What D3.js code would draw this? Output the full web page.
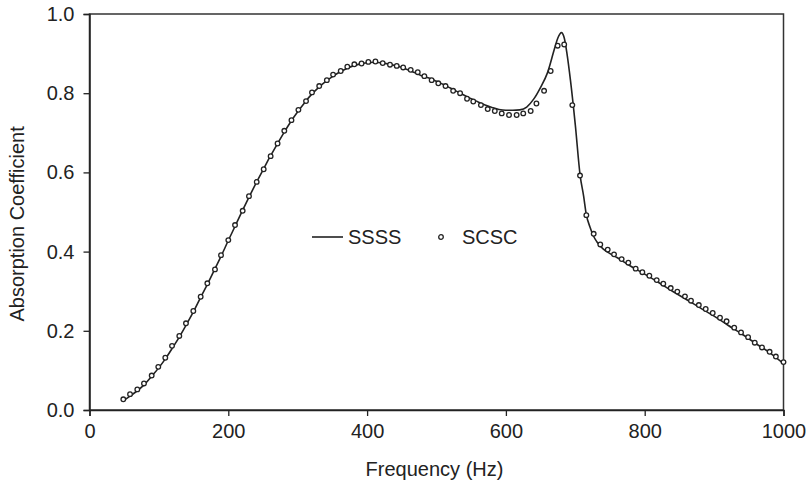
<!DOCTYPE html>
<html>
<head>
<meta charset="utf-8">
<script src="https://cdn.jsdelivr.net/npm/d3@7.9.0/dist/d3.min.js"></script>
<style>
  body { margin: 0; background: #fff; }
  svg { display: block; font-family: "Liberation Sans", Arial, sans-serif; }
</style>
</head>
<body>
<svg id="chart" width="810" height="492"></svg>
<script>
// SCSC markers (frequency Hz, absorption coefficient)
const scscFreq = [48.7, 58.4, 68.9, 78.5, 89.6, 99.1, 109.2, 118.9, 129.4, 139, 149.6, 160.2, 169.8, 180.8, 189.5,
  200, 209.7, 220.7, 229.8, 240.9, 251, 261, 271, 280.7, 291, 301, 312, 320.6, 331, 342, 351, 362, 371.5, 381.6,
  392, 401.8, 412, 422.5, 433, 442.7, 452, 462.8, 473, 482.5, 493, 502.6, 513, 524, 534, 544, 553, 564, 573.8,
  584, 594, 604.5, 615.5, 625, 635.7, 644, 655, 664.5, 674.6, 684, 695.7, 706.8, 715.9, 726.5, 736, 746.7,
  755.8, 766.8, 776.4, 787, 796.6, 806.7, 817.3, 826.8, 837.5, 847, 858, 866.7, 878, 887.9, 898, 908.5, 918,
  929, 938.8, 949, 958.6, 969, 980, 989, 1000];
const scscValue = [0.027, 0.040, 0.052, 0.067, 0.087, 0.109, 0.132, 0.162, 0.187, 0.219, 0.250, 0.286, 0.320, 0.355, 0.391,
  0.429, 0.467, 0.503, 0.540, 0.576, 0.608, 0.641, 0.673, 0.705, 0.732, 0.758, 0.780, 0.802, 0.818, 0.833, 0.847, 0.856, 0.867, 0.873,
  0.875, 0.879, 0.880, 0.876, 0.872, 0.869, 0.865, 0.859, 0.853, 0.843, 0.833, 0.825, 0.818, 0.806, 0.800, 0.786, 0.779, 0.770, 0.760,
  0.755, 0.749, 0.745, 0.745, 0.749, 0.755, 0.774, 0.806, 0.856, 0.920, 0.923, 0.770, 0.592, 0.492, 0.445, 0.418, 0.405,
  0.393, 0.381, 0.372, 0.357, 0.348, 0.339, 0.328, 0.319, 0.308, 0.299, 0.287, 0.276, 0.265, 0.255, 0.245, 0.233, 0.224,
  0.208, 0.196, 0.184, 0.170, 0.158, 0.147, 0.135, 0.121];

// SSSS solid line
const ssssFreq = [50, 60, 70, 80, 90, 100, 110, 120, 130, 140, 150, 160, 170, 180, 190, 200, 210, 220, 230, 240,
  250, 260, 270, 280, 290, 300, 310, 320, 330, 340, 350, 360, 370, 380, 390, 400, 410, 420, 430, 440, 450, 460,
  470, 480, 490, 500, 510, 520, 530, 540, 550, 560, 570, 580, 590, 600, 610, 620, 630, 640, 650, 660, 670, 675,
  680, 684, 688, 693, 700, 707, 712, 716, 721, 726, 731, 740, 750, 760, 780, 800, 820, 840, 860, 880, 900, 920,
  940, 960, 980, 1000];
const ssssValue = [0.025, 0.037, 0.050, 0.066, 0.086, 0.107, 0.131, 0.158, 0.186, 0.217, 0.249, 0.284, 0.318, 0.354, 0.390, 0.428, 0.465, 0.502, 0.538, 0.573,
  0.606, 0.639, 0.670, 0.700, 0.728, 0.753, 0.776, 0.797, 0.814, 0.829, 0.842, 0.853, 0.862, 0.869, 0.874, 0.877, 0.878, 0.877, 0.874, 0.870, 0.865, 0.858,
  0.851, 0.843, 0.838, 0.830, 0.822, 0.813, 0.804, 0.795, 0.786, 0.778, 0.770, 0.764, 0.759, 0.757, 0.757, 0.758, 0.765, 0.785, 0.815, 0.852, 0.912, 0.940,
  0.953, 0.940, 0.900, 0.833, 0.720, 0.592, 0.540, 0.492, 0.463, 0.440, 0.425, 0.407, 0.395, 0.385, 0.363, 0.343, 0.322, 0.300, 0.279, 0.258, 0.237, 0.214,
  0.192, 0.168, 0.145, 0.117];

const xTicks = [0, 200, 400, 600, 800, 1000];
const yTicks = [0, 0.2, 0.4, 0.6, 0.8, 1.0];

const ink = '#222';
const svg = d3.select('#chart');

const x = d3.scaleLinear().domain([0, 1000]).range([89.5, 783.5]);
const y = d3.scaleLinear().domain([0, 1]).range([410, 14]);

// frame (top + right)
svg.append('rect')
  .attr('x', x(0)).attr('y', y(1))
  .attr('width', x(1000) - x(0)).attr('height', y(0) - y(1))
  .attr('fill', 'none').attr('stroke', '#333').attr('stroke-width', 1.5);

// axes
const xAxis = svg.append('g')
  .attr('transform', `translate(0,${y(0)})`)
  .call(d3.axisBottom(x).tickValues(xTicks).tickSize(6).tickPadding(8).tickFormat(d3.format('d')));
const yAxis = svg.append('g')
  .attr('transform', `translate(${x(0)},0)`)
  .call(d3.axisLeft(y).tickValues(yTicks).tickSize(6).tickPadding(9).tickFormat(d3.format('.1f')));

[xAxis, yAxis].forEach((g) => {
  g.select('.domain').attr('stroke', ink).attr('stroke-width', 1.5);
  g.selectAll('.tick line').attr('stroke', ink).attr('stroke-width', 1.3);
  g.selectAll('.tick text')
    .attr('fill', ink)
    .style('font-size', '20px')
    .style('font-family', '"Liberation Sans", Arial, sans-serif');
});

// axis titles
svg.append('text')
  .attr('x', x(500) - 2).attr('y', 476)
  .attr('text-anchor', 'middle')
  .attr('fill', ink).style('font-size', '20px')
  .text('Frequency (Hz)');
svg.append('text')
  .attr('transform', `translate(24,${y(0.47)}) rotate(-90)`)
  .attr('text-anchor', 'middle')
  .attr('fill', ink).style('font-size', '20px')
  .text('Absorption Coefficient');

// SSSS line
const ssss = ssssFreq.map((f, i) => [f, ssssValue[i]]);
svg.append('path')
  .datum(ssss)
  .attr('fill', 'none')
  .attr('stroke', ink)
  .attr('stroke-width', 1.6)
  .attr('d', d3.line().x((d) => x(d[0])).y((d) => y(d[1])).curve(d3.curveMonotoneX));

// SCSC markers
const scsc = scscFreq.map((f, i) => [f, scscValue[i]]);
svg.append('g')
  .selectAll('circle')
  .data(scsc)
  .enter()
  .append('circle')
  .attr('cx', (d) => x(d[0]))
  .attr('cy', (d) => y(d[1]))
  .attr('r', 2.3)
  .attr('fill', '#fff')
  .attr('stroke', ink)
  .attr('stroke-width', 1.3);

// legend
const legend = svg.append('g').attr('transform', 'translate(312,237)');
legend.append('line')
  .attr('x1', 0).attr('x2', 31).attr('y1', 0).attr('y2', 0)
  .attr('stroke', ink).attr('stroke-width', 1.6);
legend.append('text')
  .attr('x', 36).attr('y', 7)
  .attr('fill', ink).style('font-size', '20px')
  .text('SSSS');
legend.append('circle')
  .attr('cx', 129).attr('cy', 0).attr('r', 2.3)
  .attr('fill', '#fff').attr('stroke', ink).attr('stroke-width', 1.3);
legend.append('text')
  .attr('x', 150).attr('y', 7)
  .attr('fill', ink).style('font-size', '20px')
  .text('SCSC');
</script>
</body>
</html>
